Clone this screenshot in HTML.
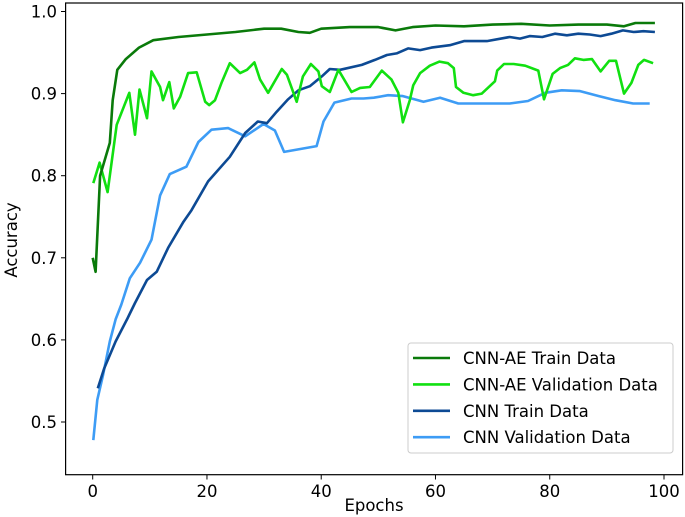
<!DOCTYPE html>
<html><head><meta charset="utf-8"><style>
body{margin:0;background:#fff}
svg{display:block;font-family:"DejaVu Sans","Liberation Sans",sans-serif}
</style></head><body>
<svg id="chart" width="685" height="517">
<g id="grid"></g>
<g id="series"></g>
<rect x="65.6" y="3" width="617" height="471.7" fill="none" stroke="#000" stroke-width="1.2"/>
<g id="axes"></g>
<text x="374" y="511" font-size="16.5" text-anchor="middle">Epochs</text>
<text x="0" y="0" font-size="16.5" text-anchor="middle" transform="translate(17,240) rotate(-90)">Accuracy</text>
<g>
<rect x="408" y="343" width="265" height="110" rx="3" fill="#fff" stroke="#ccc" stroke-width="1"/>
<g id="legend"></g>
</g>
</svg>
<script>
const xTicks=[0,20,40,60,80,100];
const yTicks=[0.5,0.6,0.7,0.8,0.9,1.0];
const seriesNames=["CNN-AE Train Data","CNN-AE Validation Data","CNN Train Data","CNN Validation Data"];
const aeTrainEpochs=[0,0.5,1.3,3,3.5,4.3,5.8,8.1,10.6,15,20,25,30,33,36,38,40,45,50,53,56,60,65,70,75,80,85,90,93,95,98.4];
const aeTrainValues=[0.70,0.683,0.80,0.84,0.892,0.929,0.942,0.956,0.965,0.969,0.972,0.975,0.979,0.979,0.975,0.974,0.979,0.981,0.981,0.977,0.981,0.983,0.982,0.984,0.985,0.983,0.984,0.984,0.982,0.986,0.986];
const aeValEpochs=[0.1,1.2,2.6,4.2,6.4,7.4,8.2,9.5,10.3,11.8,12.3,13.4,14.2,15.3,16.7,18.2,19.7,20.4,21.4,22.6,24,25.8,27,28.3,29.3,30.7,33.1,34,35.7,36.8,38.2,39.5,40.1,41.5,43,45.3,46.8,48.5,50.6,52.3,53.5,54.3,55.5,56.1,57.3,59,60.7,62.2,63.2,63.6,64.9,66.6,68.1,70.4,70.8,72,73.7,75.7,78,79,80.5,81.8,83.2,84.4,85.9,87.4,88.9,90.4,91.6,93,94.3,95.5,96.5,98.1];
const aeValValues=[0.791,0.816,0.780,0.862,0.901,0.850,0.905,0.870,0.927,0.908,0.892,0.914,0.882,0.896,0.925,0.926,0.890,0.886,0.892,0.914,0.937,0.925,0.929,0.938,0.917,0.901,0.930,0.923,0.890,0.921,0.936,0.927,0.909,0.902,0.929,0.902,0.907,0.908,0.928,0.917,0.901,0.865,0.892,0.910,0.925,0.934,0.939,0.937,0.931,0.908,0.901,0.898,0.900,0.915,0.928,0.936,0.936,0.934,0.928,0.893,0.924,0.931,0.935,0.943,0.941,0.942,0.927,0.940,0.940,0.900,0.913,0.935,0.941,0.937];
const cnnTrainEpochs=[0.9,2,4,6,7.4,9.5,11.2,13.2,15.9,17.3,20.2,24,26.7,28.9,30.5,32.2,34.2,36,38,40.1,41.5,43.3,47.1,49.4,51.5,53.2,55.2,57.3,59.3,62.5,65,69,73,74.8,76.5,78.7,80.9,83,85,87,88.9,90.8,92.8,94.7,96.4,98.4];
const cnnTrainValues=[0.541,0.565,0.598,0.625,0.645,0.673,0.683,0.712,0.744,0.758,0.793,0.823,0.852,0.866,0.864,0.878,0.893,0.904,0.909,0.921,0.930,0.929,0.935,0.941,0.947,0.949,0.955,0.953,0.956,0.959,0.964,0.964,0.969,0.967,0.970,0.969,0.973,0.971,0.973,0.972,0.970,0.973,0.977,0.975,0.976,0.975];
const cnnValEpochs=[0.1,0.8,1.8,3,4,5,6.5,8.3,10.3,11.8,13.5,16.4,18.5,20.8,23.7,26.7,29.9,31.9,33.5,39.2,40.4,42.3,45.3,47.4,49.2,51.7,54.3,57.9,60.8,64,67.8,73,76.2,79.2,82.1,85.3,88.6,91.5,94.6,97.5];
const cnnValValues=[0.478,0.527,0.557,0.598,0.625,0.643,0.675,0.694,0.722,0.776,0.802,0.811,0.841,0.856,0.858,0.848,0.863,0.855,0.829,0.836,0.866,0.889,0.894,0.894,0.895,0.898,0.897,0.890,0.895,0.888,0.888,0.888,0.891,0.901,0.904,0.903,0.897,0.892,0.888,0.888];
const colors=["#0a7a0a","#11e011","#0d4a94","#3d9cf5"];
const NS="http://www.w3.org/2000/svg";
function X(e){return 92.7+5.713*e;}
function Y(v){return 11.5+(1-v)*821;}
const axes=document.getElementById('axes');
xTicks.forEach(t=>{
  const l=document.createElementNS(NS,'line');
  l.setAttribute('x1',X(t));l.setAttribute('x2',X(t));l.setAttribute('y1',474.7);l.setAttribute('y2',479.5);l.setAttribute('stroke','#000');
  
  
  axes.appendChild(l);
  const tx=document.createElementNS(NS,'text');
  tx.setAttribute('x',X(t));tx.setAttribute('y',497);tx.setAttribute('font-size','16.5');tx.setAttribute('text-anchor','middle');
  tx.textContent=t;
  
  
  axes.appendChild(tx);
});
yTicks.forEach(t=>{
  const l=document.createElementNS(NS,'line');
  l.setAttribute('x1',61);l.setAttribute('x2',65.6);l.setAttribute('y1',Y(t));l.setAttribute('y2',Y(t));l.setAttribute('stroke','#000');
  
  
  axes.appendChild(l);
  const tx=document.createElementNS(NS,'text');
  tx.setAttribute('x',57);tx.setAttribute('y',Y(t)+6);tx.setAttribute('font-size','16.5');tx.setAttribute('text-anchor','end');
  tx.textContent=t.toFixed(1);
  
  
  axes.appendChild(tx);
});
const sg=document.getElementById('series');
const sets=[[aeTrainEpochs,aeTrainValues],[aeValEpochs,aeValValues],[cnnTrainEpochs,cnnTrainValues],[cnnValEpochs,cnnValValues]];
const order=[3,2,1,0];
order.forEach(i=>{
  const [ex,vy]=sets[i];
  const p=document.createElementNS(NS,'polyline');
  p.setAttribute('points',ex.map((e,k)=>X(e).toFixed(1)+','+Y(vy[k]).toFixed(1)).join(' '));
  p.setAttribute('fill','none');p.setAttribute('stroke',colors[i]);p.setAttribute('stroke-width','2.6');p.setAttribute('stroke-linejoin','round');
  
  
  sg.appendChild(p);
});
const lg=document.getElementById('legend');
seriesNames.forEach((n,i)=>{
  const y=358+i*26.4;
  const l=document.createElementNS(NS,'line');
  l.setAttribute('x1',413);l.setAttribute('x2',450);l.setAttribute('y1',y);l.setAttribute('y2',y);l.setAttribute('stroke',colors[i]);l.setAttribute('stroke-width','2.6');
  
  
  lg.appendChild(l);
  const t=document.createElementNS(NS,'text');
  t.setAttribute('x',463);t.setAttribute('y',y+6);t.setAttribute('font-size','16.5');
  t.textContent=n;
  
  
  lg.appendChild(t);
});
</script>
</body></html>
